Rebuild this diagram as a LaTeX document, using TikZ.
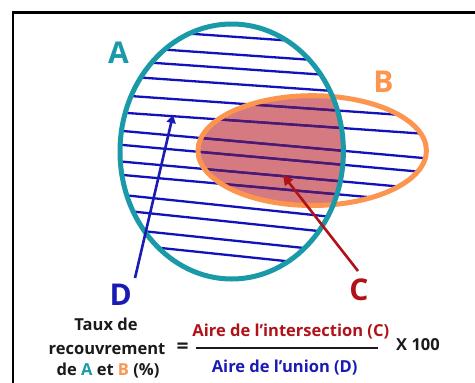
\documentclass[tikz,border=0pt]{standalone}
\usepackage{fontspec}
\setmainfont{Open Sans}
\usetikzlibrary{arrows.meta}
\definecolor{colA}{HTML}{1A9AA8}
\definecolor{colB}{HTML}{FB9550}
\definecolor{colHatch}{HTML}{1212BB}
\definecolor{colFill}{HTML}{D57A80}
\definecolor{colPurple}{HTML}{4C1870}
\definecolor{colD}{HTML}{1A1AB5}
\definecolor{colC}{HTML}{B01218}
\definecolor{colText}{HTML}{1A1A1A}
\tikzset{
  bigletter/.style={font=\fontsize{30}{30}\selectfont\bfseries, inner sep=0pt},
  formula/.style={font=\fontsize{16.5}{18}\selectfont\bfseries, inner sep=0pt, anchor=base},
  hatchline/.style={line width=2.3pt},
  ringline/.style={line width=5pt},
  pointer/.style={line width=2.6pt},
}
\begin{document}
\begin{tikzpicture}[x=1pt,y=-1pt]
\useasboundingbox (0,0) rectangle (475,383);
% frame
\draw[line width=2.8pt] (13,383) -- (13,12.5) -- (475,12.5);
% intersection fill
\begin{scope}
  \clip (231.7,151.5) ellipse [x radius=111.7, y radius=127.5];
  \fill[colFill] (312.2,150.6) ellipse [x radius=114.2, y radius=54.9];
\end{scope}
% hatch lines in union
\begin{scope}
  \clip (231.7,151.5) ellipse [x radius=111.7, y radius=127.5]
        (312.2,150.6) ellipse [x radius=114.2, y radius=54.9];
  \foreach \yy/\ss in {29/0.07,46.7/0.07,60.7/0.07,76.3/0.07,95.5/0.07,112.7/0.07,131/0.09,145/0.09,161.7/0.09,175/0.09,195/0.105,210.5/0.105,229/0.105,244/0.105}
    \draw[hatchline,colHatch] (100,{\yy+\ss*(100-123)}) -- (450,{\yy+\ss*(450-123)});
\end{scope}
% hatch lines in intersection
\begin{scope}
  \clip (231.7,151.5) ellipse [x radius=111.7, y radius=127.5];
  \clip (312.2,150.6) ellipse [x radius=114.2, y radius=54.9];
  \foreach \yy/\ss in {29/0.07,46.7/0.07,60.7/0.07,76.3/0.07,95.5/0.07,112.7/0.07,131/0.09,145/0.09,161.7/0.09,175/0.09,195/0.105,210.5/0.105,229/0.105,244/0.105}
    \draw[hatchline,colPurple] (100,{\yy+\ss*(100-123)}) -- (450,{\yy+\ss*(450-123)});
\end{scope}
% outlines
\draw[ringline,colB] (312.2,150.6) ellipse [x radius=114.2, y radius=54.9];
\draw[ringline,colA] (231.7,151.5) ellipse [x radius=111.7, y radius=127.5];
% labels
\node[bigletter,text=colA] (labA) at (118.5,52.5) {A};
\node[bigletter,text=colB] (labB) at (383.5,81.7) {B};
\node[bigletter,text=colD] (labD) at (120.8,294.5) {D};
\node[bigletter,text=colC] (labC) at (359,290) {C};
% pointers
\coordinate (dstart) at (135,278);
\coordinate (dtip) at (173,115);
\coordinate (cstart) at (358,271);
\coordinate (ctip) at (283,175);
\draw[pointer,colD,-{Triangle[length=8pt,width=9pt]}] (dstart) -- (dtip);
\draw[pointer,colC,-{Triangle[length=10pt,width=10pt]}] (cstart) -- (ctip);
% formula
\node[formula,text=colText] (t1) at (106,330) {Taux de};
\node[formula,text=colText] (t2) at (107,354) {recouvrement};
\node[formula,text=colText] (t3) at (108,375.5) {de \textcolor{colA}{A} et \textcolor{colB}{B} (\%)};
\node[formula,text=colText,anchor=center,font=\fontsize{21}{21}\selectfont\bfseries] (eq) at (182.5,348) {=};
\coordinate (barL) at (196,347.7);
\coordinate (barR) at (378,347.7);
\draw[line width=1.8pt,colText] (barL) -- (barR);
\node[formula,text=colC] (num) at (290.8,336.7) {Aire de l’intersection (C)};
\node[formula,text=colD] (den) at (284.7,372.7) {Aire de l’union (D)};
\node[formula,text=colText] (times) at (418,350) {X 100};
\end{tikzpicture}
\end{document}
